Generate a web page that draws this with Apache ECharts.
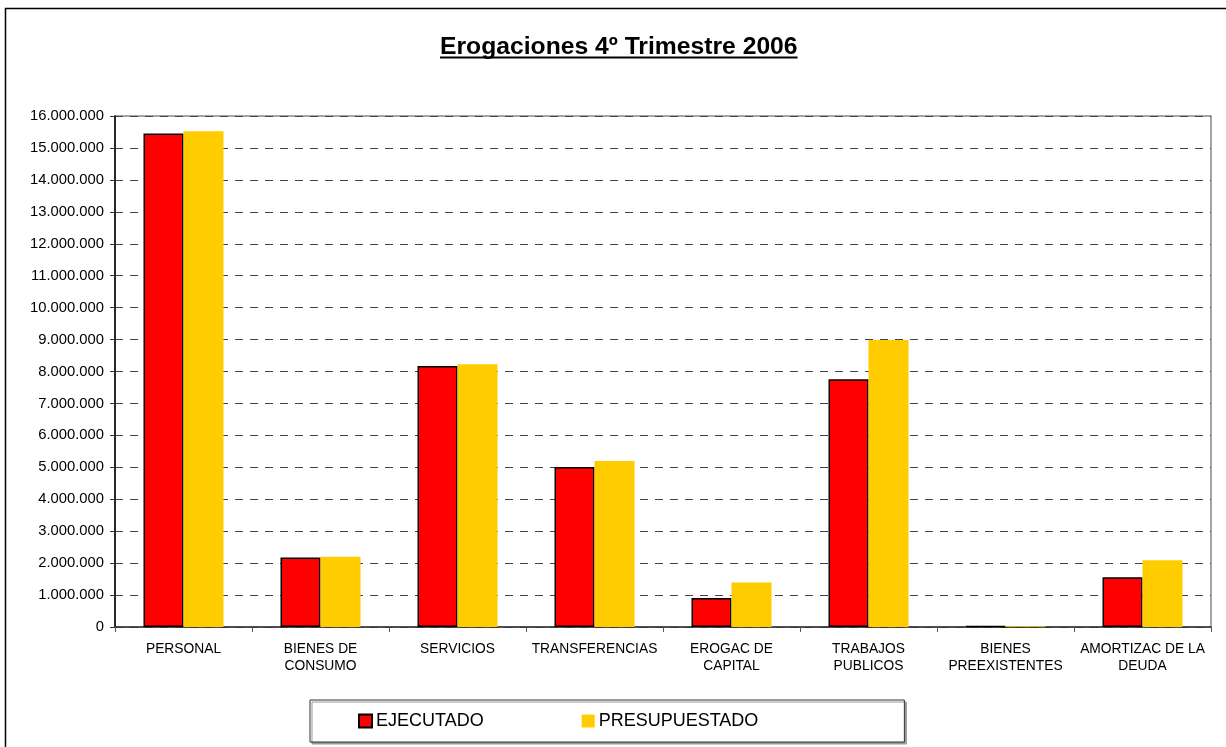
<!DOCTYPE html>
<html>
<head>
<meta charset="utf-8">
<script src="https://cdn.jsdelivr.net/npm/echarts@6/dist/echarts.min.js"></script>
<style>
html,body{margin:0;padding:0;background:#fff;}
#c{width:1226px;height:747px;}
</style>
</head>
<body>
<div id="c"></div>
<script>
const titleText = 'Erogaciones 4º Trimestre 2006';
const categories = ['PERSONAL', 'BIENES DE\nCONSUMO', 'SERVICIOS', 'TRANSFERENCIAS', 'EROGAC DE\nCAPITAL', 'TRABAJOS\nPUBLICOS', 'BIENES\nPREEXISTENTES', 'AMORTIZAC DE LA\nDEUDA'];
const seriesNames = ['EJECUTADO', 'PRESUPUESTADO'];
const ejecutado = [15450000, 2180000, 8170000, 5010000, 910000, 7760000, 30000, 1560000];
const presupuestado = [15520000, 2200000, 8230000, 5200000, 1390000, 8990000, 20000, 2090000];
const yMin = 0, yMax = 16000000, yStep = 1000000;

const FONT = '"Liberation Sans", Arial, sans-serif';
const TITLE_SIZE = 24.7;
const chart = echarts.init(document.getElementById('c'), null, {renderer: 'canvas'});

function fmt(v) {
  return String(v).replace(/\B(?=(\d{3})+(?!\d))/g, '.');
}

const ctx = document.createElement('canvas').getContext('2d');
ctx.font = 'bold ' + TITLE_SIZE + 'px ' + FONT;
const titleW = ctx.measureText(titleText).width;
const titleLeft = Math.round(618.5 - titleW / 2);

chart.setOption({
  backgroundColor: '#fff',
  animation: false,
  title: {
    text: titleText,
    left: titleLeft,
    top: 35,
    padding: 0,
    textStyle: {fontFamily: FONT, fontSize: TITLE_SIZE, fontWeight: 'bold', color: '#000'}
  },
  graphic: [
    {type: 'rect', shape: {x: 5.5, y: 8.5, width: 1240, height: 800}, style: {fill: null, stroke: '#000', lineWidth: 1.5}, silent: true, z: -1},
    {type: 'line', shape: {x1: titleLeft, y1: 57.5, x2: titleLeft + titleW, y2: 57.5}, style: {stroke: '#000', lineWidth: 2}, silent: true}
  ],
  legend: {
    data: seriesNames,
    left: 310,
    top: 700,
    orient: 'horizontal',
    padding: [12, 146, 12, 48],
    itemGap: 98,
    itemWidth: 13,
    itemHeight: 13,
    icon: 'rect',
    borderColor: '#333',
    borderWidth: 1,
    backgroundColor: '#fff',
    shadowColor: '#999',
    shadowOffsetX: 2,
    shadowOffsetY: 2,
    shadowBlur: 0,
    textStyle: {fontFamily: FONT, fontSize: 18, color: '#000', padding: [0, 0, 0, -1]}
  },
  grid: {
    left: 115, right: 15, top: 116, bottom: 120,
    show: true, borderColor: '#888', borderWidth: 1.5, backgroundColor: 'transparent'
  },
  xAxis: {
    type: 'category',
    data: categories,
    axisLine: {lineStyle: {color: '#333', width: 1.5}},
    axisTick: {show: true, length: 5, lineStyle: {color: '#555'}},
    axisLabel: {fontFamily: FONT, fontSize: 13.8, color: '#000', margin: 14, lineHeight: 17, interval: 0}
  },
  yAxis: {
    type: 'value',
    min: yMin, max: yMax, interval: yStep,
    axisLine: {show: true, lineStyle: {color: '#000', width: 1.5}},
    axisTick: {show: true, length: 5, lineStyle: {color: '#333'}},
    axisLabel: {fontFamily: FONT, fontSize: 14.8, color: '#000', margin: 11, formatter: fmt},
    splitLine: {show: true, lineStyle: {color: '#444', type: [8, 7], width: 1.2}}
  },
  series: [
    {
      name: seriesNames[0], type: 'bar', data: ejecutado, barWidth: 40, barGap: 0,
      itemStyle: {color: '#FF0000', borderColor: '#000', borderWidth: 1.5}
    },
    {
      name: seriesNames[1], type: 'bar', data: presupuestado, barWidth: 40, barGap: 0,
      itemStyle: {color: '#FFCC00'}
    }
  ]
});
</script>
</body>
</html>
